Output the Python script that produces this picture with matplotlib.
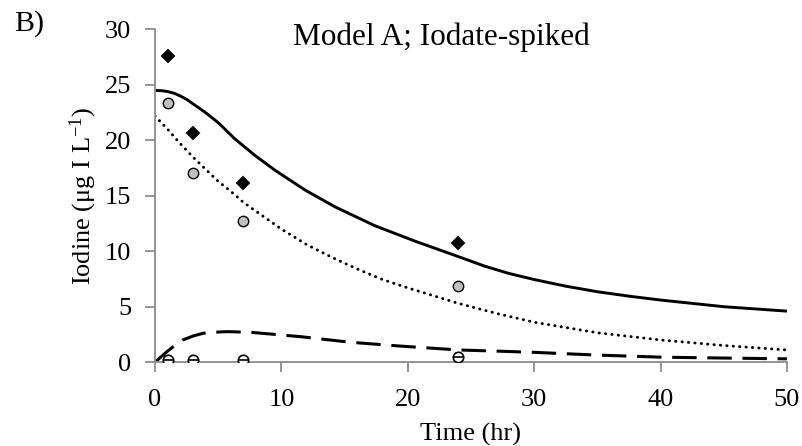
import numpy as np
import matplotlib
matplotlib.use("Agg")
import matplotlib.pyplot as plt

plt.rcParams['font.family'] = ['Liberation Serif', 'DejaVu Serif']
plt.rcParams['mathtext.default'] = 'regular'

# --- measured concentrations ---
t_obs = [1, 3, 7, 24]
total_obs = [27.6, 20.7, 16.15, 10.7]
iodate_obs = [23.4, 17.1, 12.7, 6.9]
iodide_obs = [0.18, 0.18, 0.18, 0.5]

# --- model curves ---
t_total = [0, 0.5, 1, 1.5, 2, 2.5, 3, 4, 5, 6.3, 7.9, 9.5, 11.9, 14.25, 17.4,
           20.6, 23.7, 26.1, 28, 30, 32.5, 35, 37.5, 40, 45, 50]
total_mod = [24.5, 24.48, 24.4, 24.25, 24.0, 23.7, 23.3, 22.5, 21.6, 20.15, 18.65,
             17.3, 15.5, 14.0, 12.3, 10.9, 9.64, 8.65, 8.0, 7.45, 6.85, 6.35,
             5.95, 5.6, 5.0, 4.6]

t_iodate = [0, 1, 2, 3, 4, 5, 6, 7, 8, 10, 12, 14, 16, 18, 20, 22, 24, 27,
            30, 35, 40, 45, 50]
iodate_mod = [22.2, 21.0, 19.7, 18.5, 17.4, 16.3, 15.4, 14.4, 13.6, 12.0, 10.6,
              9.45, 8.4, 7.45, 6.7, 6.0, 5.3, 4.4, 3.6, 2.65, 2.0, 1.5, 1.1]

t_iodide = [0, 0.5, 1.0, 1.45, 2.2, 3.0, 3.8, 4.7, 5.7, 7.5, 9.5, 11.5, 15.4,
            19.4, 24, 29.7, 34.7, 40, 45, 50]
iodide_mod = [0, 0.5, 1.0, 1.4, 2.0, 2.35, 2.6, 2.7, 2.75, 2.7, 2.5, 2.3, 1.8,
              1.45, 1.1, 0.9, 0.65, 0.45, 0.37, 0.3]

fig = plt.figure(figsize=(8.03, 4.46), dpi=100)
ax = fig.add_axes([0.193, 0.188, 0.787, 0.746])

ax.plot(t_total, total_mod, color='black', lw=2.1, solid_joinstyle='round', zorder=2)
ax.plot(t_iodate, iodate_mod, color='black', lw=2.1, linestyle=(0, (0.1, 2.1)),
        dash_capstyle='round', zorder=2)
ax.plot(t_iodide, iodide_mod, color='black', lw=2.2, linestyle=(0, (8, 3.5)), zorder=2)

ax.plot(t_obs, total_obs, linestyle='none', marker='D', ms=6, mfc='black',
        mec='black', mew=1.4, zorder=3)
ax.plot(t_obs, iodate_obs, linestyle='none', marker='o', ms=7.5, mfc='#c0c0c0',
        mec='black', mew=1.0, zorder=3)
ax.plot(t_obs, iodide_obs, linestyle='none', marker='o', ms=7.5, mfc='white',
        mec='black', mew=1.2, zorder=3)
ax.plot(t_obs, iodide_obs, linestyle='none', marker='_', ms=7.5, mec='black',
        mew=1.2, zorder=4)

ax.set_xlim(0, 50)
ax.set_ylim(0, 30)
ax.set_xticks(np.arange(0, 51, 10))
ax.set_yticks(np.arange(0, 31, 5))

for side in ['top', 'right']:
    ax.spines[side].set_visible(False)
for side in ['left', 'bottom']:
    ax.spines[side].set_color('#8c8c8c')
    ax.spines[side].set_linewidth(1.3)
ax.tick_params(direction='out', length=7, width=1.3, color='#8c8c8c', labelsize=19)
ax.tick_params(axis='x', pad=12)
ax.tick_params(axis='y', pad=10)

ax.set_xlabel('Time (hr)', fontsize=19, labelpad=9)
ax.set_ylabel(r'Iodine (μg I L$^{-1}$)', fontsize=19, labelpad=4)

fig.text(441 / 803, 1 - 37 / 446, 'Model A; Iodate-spiked', fontsize=22.5,
         ha='center', va='center')
fig.text(0.018, 1 - 24 / 446, 'B)', fontsize=21.5, ha='left', va='center')

fig.savefig('out.png', dpi=100)
